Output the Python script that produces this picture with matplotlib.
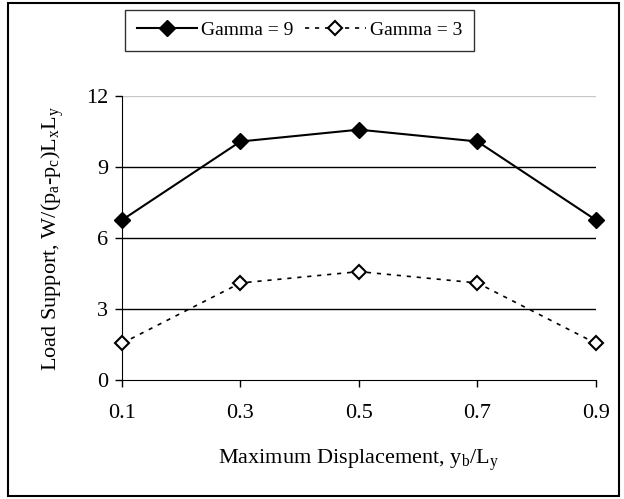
import matplotlib
matplotlib.use("Agg")
import matplotlib.pyplot as plt
from matplotlib.patches import Rectangle

plt.rcParams['font.family'] = ['Liberation Serif', 'DejaVu Serif']
plt.rcParams['mathtext.fontset'] = 'custom'
plt.rcParams['mathtext.rm'] = 'Liberation Serif'
plt.rcParams['mathtext.it'] = 'Liberation Serif'

x_vals = [0.1, 0.3, 0.5, 0.7, 0.9]
gamma9 = [6.76, 10.08, 10.58, 10.08, 6.76]
gamma3 = [1.55, 4.1, 4.58, 4.1, 1.55]
x_ticks = [0.1, 0.3, 0.5, 0.7, 0.9]
y_ticks = [0, 3, 6, 9, 12]

fig = plt.figure(figsize=(6.24, 4.99), dpi=100)
ax = fig.add_axes([0.1955, 0.2385, 0.7595, 0.569])

for yv in y_ticks[1:]:
    col = '#c8c8c8' if yv == 12 else 'black'
    ax.axhline(yv, color=col, lw=1.0, zorder=1)

ax.plot(x_vals, gamma9, color='black', lw=1.5, marker='D', ms=8,
        mfc='black', mec='black', label='Gamma = 9', clip_on=False, zorder=3)
ax.plot(x_vals, gamma3, color='black', lw=1.2, ls=(0, (2.5, 3.5)), marker='D', ms=7,
        mfc='white', mec='black', mew=1.5, label='Gamma = 3', clip_on=False, zorder=3)

ax.set_xlim(0.1, 0.9)
ax.set_ylim(0, 12)
ax.set_xticks(x_ticks)
ax.set_xticklabels(['%.1f' % v for v in x_ticks])
ax.set_yticks(y_ticks)
for s in ['top', 'right']:
    ax.spines[s].set_visible(False)
ax.tick_params(direction='out', length=5, width=1, labelsize=16, pad=5)
ax.tick_params(axis='x', pad=12)

ax.set_xlabel('Maximum Displacement, y$_{\\mathrm{b}}$/L$_{\\mathrm{y}}$', fontsize=16, labelpad=18)
ax.set_ylabel('Load Support, W/(p$_{\\mathrm{a}}$-p$_{\\mathrm{c}}$)L$_{\\mathrm{x}}$L$_{\\mathrm{y}}$', fontsize=16, labelpad=14)

leg = fig.legend(loc='center', bbox_to_anchor=(0.48, 0.939), ncol=2, fontsize=14,
                 frameon=True, fancybox=False, edgecolor='black', handlelength=3.1,
                 columnspacing=0.6, handletextpad=0.2, borderpad=0.6)
leg.get_frame().set_linewidth(1.0)

fig.patches.append(Rectangle((8 / 624, 3 / 499), 611 / 624, 493 / 499, transform=fig.transFigure,
                             fill=False, edgecolor='black', lw=1.5))

fig.savefig('out.png', dpi=100)
